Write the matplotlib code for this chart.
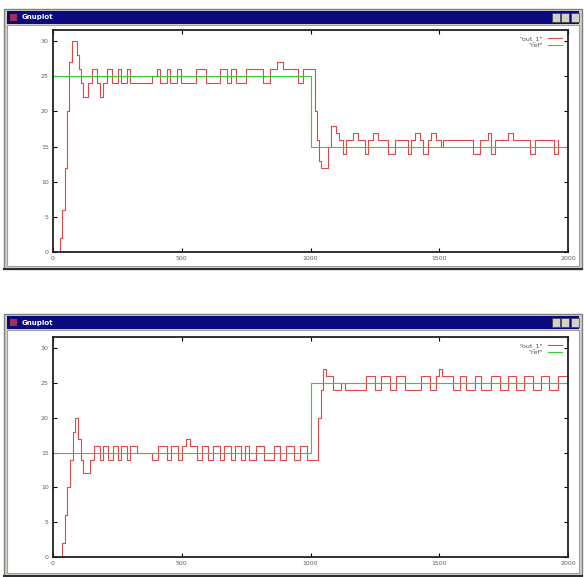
import matplotlib
matplotlib.use('Agg')
import matplotlib.pyplot as plt
from matplotlib.patches import Rectangle

# step change points (time, value)
top_out_t = [0, 28, 36, 46, 56, 64, 72, 92, 102, 110, 118, 136, 150, 170, 182, 196, 208, 228, 253, 266,
             286, 299, 312, 376, 385, 402, 415, 441, 454, 480, 499, 557, 596, 648, 674, 693, 712, 751,
             816, 842, 868, 893, 900, 945, 952, 971, 997, 1016, 1024, 1032, 1042, 1062, 1068, 1081,
             1100, 1110, 1126, 1139, 1165, 1185, 1210, 1223, 1243, 1262, 1301, 1327, 1379, 1392,
             1405, 1424, 1437, 1456, 1469, 1488, 1508, 1514, 1631, 1657, 1690, 1702, 1715, 1767,
             1786, 1851, 1870, 1944, 1961]
top_out_v = [0, 2, 6, 12, 20, 27, 30, 28, 26, 24, 22, 24, 26, 24, 22, 24, 26, 24, 26, 24,
             26, 24, 24, 24, 25, 26, 24, 26, 24, 26, 24, 26, 24, 26, 24, 26, 24, 26,
             24, 26, 27, 26, 26, 26, 24, 26, 26, 20, 16, 13, 12, 12, 15, 18,
             17, 16, 14, 16, 17, 16, 14, 16, 17, 16, 14, 16, 14, 16,
             17, 16, 14, 16, 17, 16, 15, 16, 14, 16, 17, 14, 16, 17,
             16, 14, 16, 14, 16]
top_ref_t = [0, 1000, 1000, 2000]
top_ref_v = [25, 25, 15, 15]

bot_out_t = [0, 35, 46, 56, 66, 76, 86, 98, 108, 118, 124, 144, 160, 182, 195, 215, 234, 253,
             266, 286, 299, 325, 345, 383, 409, 415, 441, 460, 486, 500, 518, 531, 560, 580,
             600, 620, 650, 665, 690, 705, 730, 745, 760, 790, 820, 860, 880, 905, 935, 960,
             985, 1030, 1040, 1049, 1062, 1088, 1120, 1135, 1217, 1249, 1275, 1307, 1333,
             1366, 1430, 1463, 1489, 1500, 1510, 1527, 1553, 1565, 1579, 1605, 1637, 1663,
             1702, 1734, 1766, 1799, 1831, 1864, 1896, 1928, 1961, 1993]
bot_out_v = [0, 2, 6, 10, 14, 18, 20, 17, 14, 12, 12, 14, 16, 14, 16, 14, 16, 14,
             16, 14, 16, 15, 15, 14, 16, 16, 14, 16, 14, 16, 17, 16, 14, 16,
             14, 16, 14, 16, 14, 16, 14, 16, 14, 16, 14, 16, 14, 16, 14, 16,
             14, 20, 24, 27, 26, 24, 25, 24, 26, 24, 26, 24, 26,
             24, 26, 24, 26, 27, 26, 26, 24, 24, 26, 24, 26, 24,
             26, 24, 26, 24, 26, 24, 26, 24, 26, 26]
bot_ref_t = [0, 1000, 1000, 2000]
bot_ref_v = [15, 15, 25, 25]

x_ticks = [0, 500, 1000, 1500, 2000]
y_ticks = [0, 5, 10, 15, 20, 25, 30]
legend_labels = ['"out_1"', '"ref"']

W, H = 584, 577
fig = plt.figure(figsize=(W / 100, H / 100), dpi=100)

# background axes in pixel units for the window chrome
bg = fig.add_axes([0, 0, 1, 1])
bg.set_xlim(0, W)
bg.set_ylim(H, 0)
bg.axis('off')


def window(y0, y1):
    bg.add_patch(Rectangle((4, y0), 578, y1 - y0, facecolor='#d4d0c8', edgecolor='#808080', lw=1))
    bg.add_patch(Rectangle((7, y0 + 2), 572, 13, facecolor='#0a0a80', edgecolor='none'))
    bg.add_patch(Rectangle((10, y0 + 5), 7, 7, facecolor='#a03050', edgecolor='none'))
    bg.text(22, y0 + 8.5, 'Gnuplot', color='white', fontsize=5, fontweight='bold', va='center')
    for bx in [552, 561, 571]:
        bg.add_patch(Rectangle((bx, y0 + 4), 8, 9, facecolor='#d4d0c8', edgecolor='#404040', lw=0.5))
    bg.add_patch(Rectangle((7, y0 + 16), 572, y1 - y0 - 19, facecolor='white', edgecolor='#a0a0a0', lw=0.8))
    bg.plot([4, 582], [y1, y1], color='#303030', lw=1.5)


window(9, 269)
window(314, 576)


def panel(rect, out_t, out_v, ref_t, ref_v):
    ax = fig.add_axes(rect)
    ax.plot(out_t, out_v, drawstyle='steps-post', color='#e04848', lw=0.8, label=legend_labels[0])
    ax.plot(ref_t, ref_v, color='#30d030', lw=0.8, label=legend_labels[1])
    ax.set_xlim(0, 2000)
    ax.set_ylim(0, 31.6)
    ax.set_xticks(x_ticks)
    ax.set_yticks(y_ticks)
    ax.tick_params(direction='in', top=True, right=True, length=3, width=0.8,
                   labelsize=4.5, labelcolor='#606060', pad=3)
    for s in ax.spines.values():
        s.set_linewidth(1.3)
        s.set_color('#202020')
    leg = ax.legend(loc='upper right', frameon=False, fontsize=4.5, handlelength=2.2,
                    markerfirst=False, borderaxespad=0.6, labelspacing=0.1)
    for t in leg.get_texts():
        t.set_color('#505050')
    return ax


panel([53 / W, 1 - 252 / H, 515 / W, 222 / H], top_out_t, top_out_v, top_ref_t, top_ref_v)
panel([53 / W, 1 - 557 / H, 515 / W, 220 / H], bot_out_t, bot_out_v, bot_ref_t, bot_ref_v)

fig.savefig('out.png', dpi=100)
